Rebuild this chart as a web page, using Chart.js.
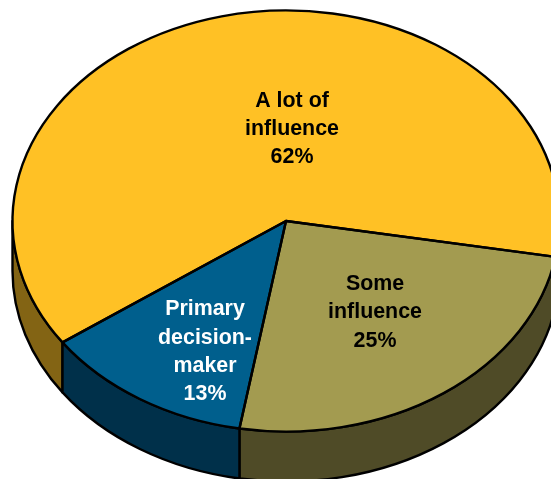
<!DOCTYPE html>
<html>
<head>
<meta charset="utf-8">
<style>
  html, body { margin: 0; padding: 0; background: #fff; width: 551px; height: 479px; overflow: hidden; }
  #wrap { position: relative; width: 551px; height: 479px; overflow: hidden; }
  #chart { position: absolute; left: -14px; top: -79px; }
</style>
<script src="https://cdn.jsdelivr.net/npm/chart.js@4/dist/chart.umd.min.js"></script>
</head>
<body>
<div id="wrap"><canvas id="chart" width="600" height="600"></canvas></div>
<script>
const categories = ['A lot of influence', 'Some influence', 'Primary decision-maker'];
const values = [62.5, 25, 12.5];
const labelLines = [
  ['A lot of', 'influence', '62%'],
  ['Some', 'influence', '25%'],
  ['Primary', 'decision-', 'maker', '13%']
];

const topColors = ['#FFC125', '#A39B50', '#005F8D'];
const sideColors = ['#836414', '#4F4B27', '#00304A'];
const labelColors = ['#000000', '#000000', '#FFFFFF'];
// label centres, in page pixels
const labelAnchors = [[292, 129], [375, 312.5], [205, 352]];
const lineGap = 28.3;

const OFFSET_X = 14, OFFSET_Y = 79;
const RADIUS = 273.5;
const TILT = 0.77;
const DEPTH = 50;
const LINE_WIDTH = 2.4;

// squashes the pie into an ellipse and adds the outlines, sides and labels
const tiltPlugin = {
  id: 'tilt',
  beforeDatasetsDraw(chart) {
    const ctx = chart.ctx;
    const arcs = chart.getDatasetMeta(0).data;
    const cx = arcs[0].x, cy = arcs[0].y, ry = arcs[0].outerRadius * TILT, rx = arcs[0].outerRadius;

    ctx.save();
    ctx.lineWidth = LINE_WIDTH;
    ctx.strokeStyle = '#000';
    ctx.lineJoin = 'round';
    arcs.forEach((arc, i) => {
      for (let k = -1; k <= 1; k++) {
        const a = Math.max(arc.startAngle + k * 2 * Math.PI, 0);
        const b = Math.min(arc.endAngle + k * 2 * Math.PI, Math.PI);
        if (b <= a) continue;
        ctx.beginPath();
        ctx.ellipse(cx, cy, rx, ry, 0, a, b);
        ctx.ellipse(cx, cy + DEPTH, rx, ry, 0, b, a, true);
        ctx.closePath();
        ctx.fillStyle = sideColors[i];
        ctx.fill();
        ctx.stroke();
      }
    });
    ctx.restore();

    ctx.save();
    ctx.translate(cx, cy);
    ctx.scale(1, TILT);
    ctx.translate(-cx, -cy);
  },
  afterDatasetsDraw(chart) {
    const ctx = chart.ctx;
    ctx.restore();

    const arcs = chart.getDatasetMeta(0).data;
    ctx.save();
    ctx.lineWidth = LINE_WIDTH;
    ctx.strokeStyle = '#000';
    ctx.lineJoin = 'round';
    arcs.forEach(arc => {
      ctx.beginPath();
      ctx.moveTo(arc.x, arc.y);
      ctx.ellipse(arc.x, arc.y, arc.outerRadius, arc.outerRadius * TILT, 0, arc.startAngle, arc.endAngle);
      ctx.closePath();
      ctx.stroke();
    });

    ctx.font = 'bold 21.4px "Liberation Sans", Arial, sans-serif';
    ctx.textAlign = 'center';
    ctx.textBaseline = 'middle';
    labelLines.forEach((lines, i) => {
      ctx.fillStyle = labelColors[i];
      const top = labelAnchors[i][1] - (lines.length - 1) * lineGap / 2;
      lines.forEach((line, j) => {
        ctx.fillText(line, labelAnchors[i][0] + OFFSET_X, top + j * lineGap + OFFSET_Y);
      });
    });
    ctx.restore();
  }
};

new Chart(document.getElementById('chart'), {
  type: 'pie',
  data: {
    labels: categories,
    datasets: [{
      data: values,
      backgroundColor: topColors,
      borderWidth: 0
    }]
  },
  options: {
    responsive: false,
    animation: false,
    rotation: 234.8,
    radius: RADIUS,
    plugins: {
      legend: { display: false },
      tooltip: { enabled: false }
    }
  },
  plugins: [tiltPlugin]
});
</script>
</body>
</html>
